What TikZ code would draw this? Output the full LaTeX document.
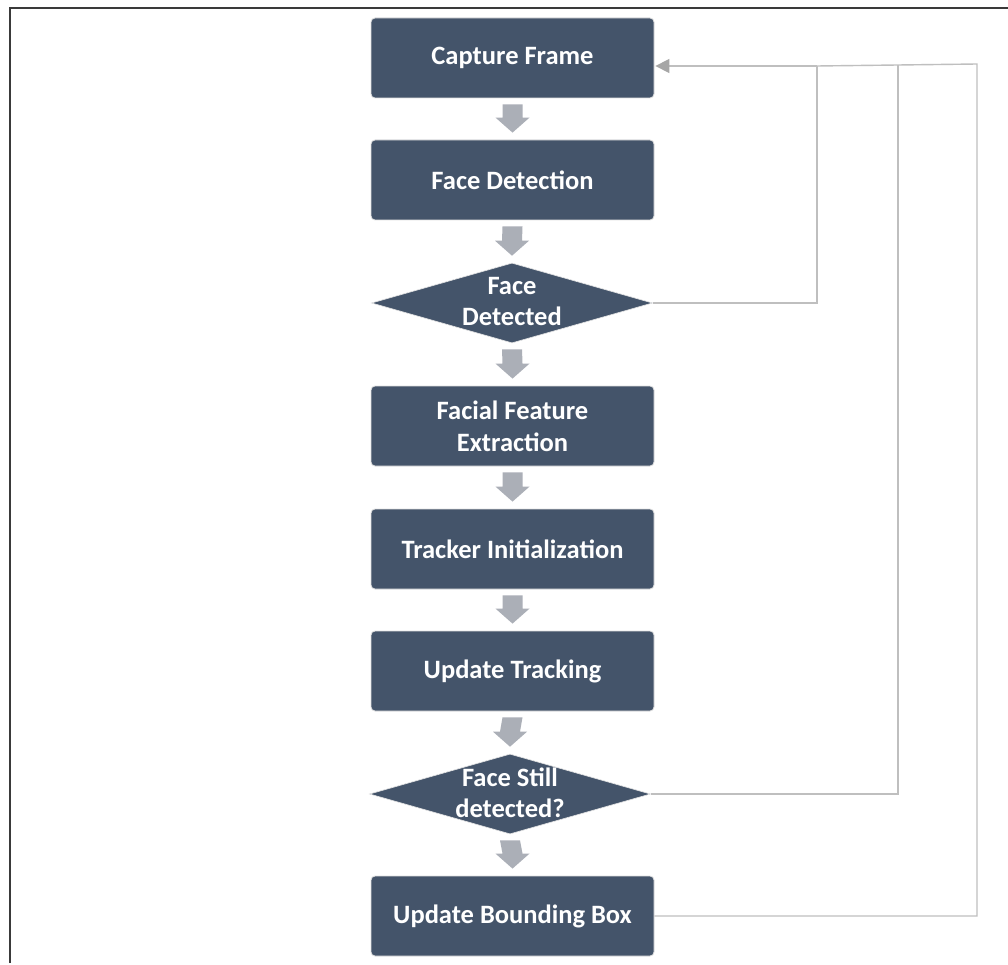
\documentclass[tikz,border=0pt]{standalone}
\usepackage{fontspec}
\setmainfont{Carlito}
\usetikzlibrary{shapes.geometric,arrows.meta,calc}
\definecolor{boxfill}{HTML}{44546A}
\definecolor{blockgray}{HTML}{ABAFB7}
\definecolor{loopline}{HTML}{BFBFBF}
\definecolor{looptip}{HTML}{A6A6A6}
\definecolor{framecol}{HTML}{3A3A3A}
\tikzset{
  stepbox/.style={rectangle, rounded corners=4pt, fill=boxfill, draw=black!12, line width=0.8pt,
    minimum width=283, minimum height=80, inner sep=0pt, text=white, align=center,
    font=\fontsize{26.5}{32}\selectfont\bfseries},
  decision/.style={diamond, fill=boxfill, draw=black!10, line width=0.6pt,
    minimum width=281, minimum height=80, inner sep=0pt, aspect=3.5},
  decisiontext/.style={text=white, align=center, font=\fontsize{26.5}{31}\selectfont\bfseries, inner sep=0pt},
  blockarrow/.style={fill=blockgray},
  loop/.style={draw=loopline, line width=1.4pt},
}
% thick grey down-arrow between two stacked nodes
\newcommand\flowdown[2]{%
  \fill[blockarrow] ($(#1.south)+(-10,6)$) -- ($(#1.south)+(10,6)$)
    -- ($(#2.north)+(10,-22)$) -- ($(#2.north)+(17,-22)$)
    -- ($(#2.north)+(0,-7)$) -- ($(#2.north)+(-17,-22)$)
    -- ($(#2.north)+(-10,-22)$) -- cycle;}
\begin{document}
\begin{tikzpicture}[x=1pt,y=-1pt]
\useasboundingbox (0,0) rectangle (1008,965);
\fill[white] (0,0) rectangle (1008,965);
% frame edges
\draw[framecol, line width=1.6pt] (10,963) -- (10,8) -- (1008,8);

% process steps
\node[stepbox] (cf)  at (512.5,58)  {Capture Frame};
\node[stepbox] (fd)  at (512.5,180) {Face Detection};
\node[decision] (d1) at (512,303) {};
\node[decisiontext] at (512,302) {Face\\Detected};
\node[stepbox] (ffe) at (512.5,426) {Facial Feature\\Extraction};
\node[stepbox] (ti)  at (512.5,549) {Tracker Initialization};
\node[stepbox] (ut)  at (512.5,671) {Update Tracking};
\node[decision] (d2) at (510,794) {};
\node[decisiontext] at (510,793) {Face Still\\detected?};
\node[stepbox] (bb)  at (512.5,916) {Update Bounding Box};

% main flow
\flowdown{cf}{fd}
\flowdown{fd}{d1}
\flowdown{d1}{ffe}
\flowdown{ffe}{ti}
\flowdown{ti}{ut}
\flowdown{ut}{d2}
\flowdown{d2}{bb}

% feedback loops to the capture step
\coordinate (entry) at ($(cf.east)+(1,8)$);
\coordinate (k1) at (817,66);
\coordinate (k2) at (898,65);
\coordinate (k3) at (977,64);
\draw[loop] (d1.east) -| (k1);
\draw[loop] (d2.east) -| (k2);
\draw[loop] (bb.east) -| (k3) -- (k2) -- (k1);
\draw[loop, -{Triangle[length=14pt,width=14pt,fill=looptip,color=looptip]}] (k1) -- (entry);
\end{tikzpicture}
\end{document}
